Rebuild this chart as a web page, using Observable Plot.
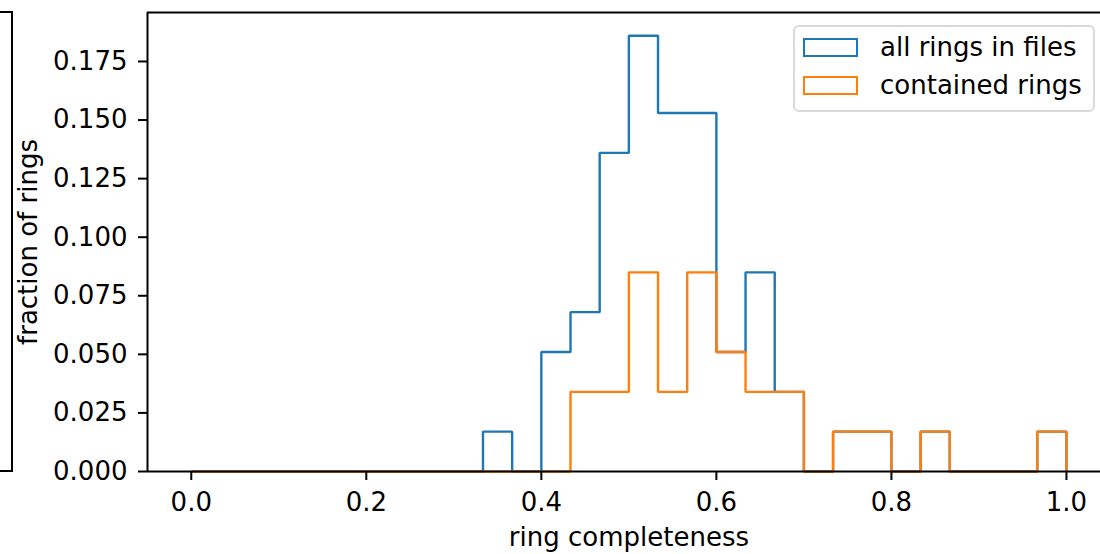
<!DOCTYPE html>
<html>
<head>
<meta charset="utf-8">
<script src="https://cdn.jsdelivr.net/npm/d3@7"></script>
<script src="https://cdn.jsdelivr.net/npm/@observablehq/plot@0.6"></script>
<style>
  html, body { margin: 0; padding: 0; background: #fff; }
  #wrap { position: relative; width: 1100px; height: 554px; overflow: hidden; font-family: "DejaVu Sans", sans-serif; }
  #prev { position: absolute; left: -1px; top: 11px; width: 14px; height: 461px; box-sizing: border-box;
          border-top: 2px solid #000; border-right: 2px solid #000; border-bottom: 2px solid #000; }
  #legend { position: absolute; left: 793px; top: 25px; width: 302px; height: 87px; box-sizing: border-box;
            border: 2px solid #d9d9d9; border-radius: 6px; background: rgba(255,255,255,0.8); }
  .patch { position: absolute; left: 8px; width: 55px; height: 19px; box-sizing: border-box; border: 2.5px solid; }
  .ltext { position: absolute; left: 85px; font-size: 26px; line-height: 26px; white-space: nowrap; color: #000; }
</style>
</head>
<body>
<div id="wrap"></div>
<script>
// Histogram bins: 30 bins of equal width on [0, 1]
const nBins = 30;
const binEdges = d3.range(nBins + 1).map(i => i / nBins);

// fraction of rings per bin
const allRings = [
  0, 0, 0, 0, 0, 0, 0, 0, 0, 0,
  0.017, 0, 0.051, 0.068, 0.136, 0.186, 0.153, 0.153, 0.051, 0.085,
  0.034, 0, 0.017, 0.017, 0, 0.017, 0, 0, 0, 0.017
];
const containedRings = [
  0, 0, 0, 0, 0, 0, 0, 0, 0, 0,
  0, 0, 0, 0.034, 0.034, 0.085, 0.034, 0.085, 0.051, 0.034,
  0.034, 0, 0.017, 0.017, 0, 0.017, 0, 0, 0, 0.017
];

const seriesNames = ["all rings in files", "contained rings"];
const seriesColors = ["#1f77b4", "#ff7f0e"];
const xTicks = [0, 0.2, 0.4, 0.6, 0.8, 1.0];
const yTicks = [0, 0.025, 0.05, 0.075, 0.1, 0.125, 0.15, 0.175];
const xLabel = "ring completeness";
const yLabel = "fraction of rings";

// step path points for a histogram drawn as an outline (matplotlib histtype="step")
function stepPoints(values) {
  const pts = [{x: binEdges[0], y: 0}];
  values.forEach((v, i) => pts.push({x: binEdges[i], y: v}));
  pts.push({x: binEdges[nBins], y: values[nBins - 1]});
  pts.push({x: binEdges[nBins], y: 0});
  return pts;
}

const yMax = 0.1959;
const xDomain = [-0.05, 1.0389];

const lineOpts = {x: "x", y: "y", curve: "step-after", strokeWidth: 2.4, strokeLinejoin: "miter", strokeLinecap: "butt"};

const chart = Plot.plot({
  width: 1100,
  height: 554,
  marginLeft: 147,
  marginRight: 0,
  marginTop: 12,
  marginBottom: 83,
  style: {fontFamily: "DejaVu Sans, sans-serif", fontSize: "26px", background: "transparent", overflow: "visible"},
  x: {domain: xDomain, axis: null},
  y: {domain: [0, yMax], axis: null},
  marks: [
    Plot.line(stepPoints(allRings), {...lineOpts, stroke: seriesColors[0]}),
    Plot.line(stepPoints(containedRings), {...lineOpts, stroke: seriesColors[1]}),
    Plot.ruleY([0], {stroke: "#000", strokeWidth: 2}),
    Plot.ruleY([yMax], {stroke: "#000", strokeWidth: 2}),
    Plot.ruleX([xDomain[0]], {stroke: "#000", strokeWidth: 2}),
    Plot.axisX(xTicks, {tickSize: 9, tickPadding: 12, strokeWidth: 2, tickFormat: d3.format(".1f"), fontSize: 26, label: null, fill: "#000"}),
    Plot.axisY(yTicks, {tickSize: 9, tickPadding: 11, strokeWidth: 2, tickFormat: d3.format(".3f"), fontSize: 26, label: null, fill: "#000"}),
    Plot.text([xLabel], {text: d => d, frameAnchor: "bottom", dy: 65.7, dx: 4.9, textAnchor: "middle", lineAnchor: "middle", fontSize: 26, fill: "#000"}),
    Plot.text([yLabel], {text: d => d, frameAnchor: "left", dx: -119.3, rotate: -90, textAnchor: "middle", lineAnchor: "middle", fontSize: 26, fill: "#000"})
  ]
});

const wrap = document.getElementById("wrap");
wrap.appendChild(chart);

const prev = document.createElement("div");
prev.id = "prev";
wrap.appendChild(prev);

const legend = document.createElement("div");
legend.id = "legend";
const patchTops = [11, 49];
const textTops = [7, 45.3];
seriesNames.forEach((name, i) => {
  const p = document.createElement("div");
  p.className = "patch";
  p.style.top = patchTops[i] + "px";
  p.style.borderColor = seriesColors[i];
  legend.appendChild(p);
  const t = document.createElement("div");
  t.className = "ltext";
  t.style.top = textTops[i] + "px";
  t.textContent = name;
  legend.appendChild(t);
});
wrap.appendChild(legend);
</script>
</body>
</html>
